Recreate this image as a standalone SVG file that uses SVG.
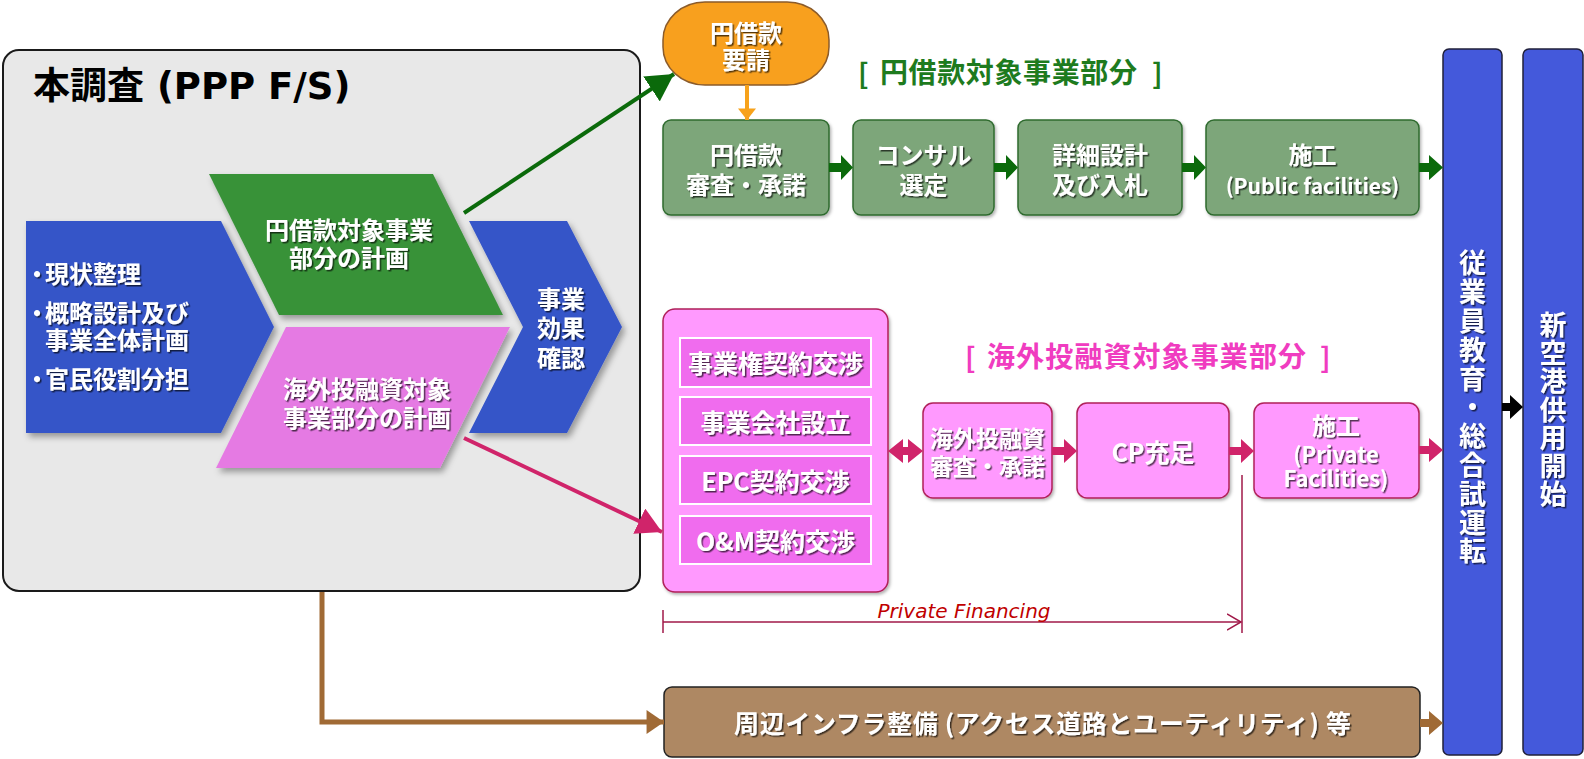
<svg xmlns="http://www.w3.org/2000/svg" width="1584" height="759" viewBox="0 0 1584 759">
<defs>
<filter id="sh" x="-10%" y="-10%" width="130%" height="130%"><feDropShadow dx="3" dy="4" stdDeviation="3" flood-color="#000" flood-opacity="0.35"/></filter>
<filter id="ts" x="-10%" y="-20%" width="130%" height="150%"><feDropShadow dx="1.5" dy="1.5" stdDeviation="0.7" flood-color="#000" flood-opacity="0.65"/></filter>
<filter id="bs" x="-5%" y="-5%" width="115%" height="115%"><feDropShadow dx="1.5" dy="2" stdDeviation="1.5" flood-color="#000" flood-opacity="0.3"/></filter>
<marker id="mg" markerUnits="userSpaceOnUse" markerWidth="30" markerHeight="30" refX="18" refY="10" viewBox="0 0 20 20" orient="auto"><path d="M0,0 L18,10 L0,20 Z" fill="#0B6A0B"/></marker>
<marker id="mp" markerUnits="userSpaceOnUse" markerWidth="28" markerHeight="28" refX="18" refY="10" viewBox="0 0 20 20" orient="auto"><path d="M0,0 L18,10 L0,20 Z" fill="#D0246A"/></marker>
<marker id="mb" markerUnits="userSpaceOnUse" markerWidth="24" markerHeight="24" refX="16" refY="11" viewBox="0 0 16 22" orient="auto"><path d="M0,0 L16,11 L0,22 Z" fill="#A06A35"/></marker>
<marker id="mo" markerUnits="userSpaceOnUse" markerWidth="26" markerHeight="18" refX="16" refY="12.5" viewBox="0 0 16 25" orient="auto"><path d="M0,0 L16,12.5 L0,25 Z" fill="#F7A21B"/></marker>
<marker id="mr" markerUnits="userSpaceOnUse" markerWidth="16" markerHeight="18" refX="14" refY="8" viewBox="0 0 16 16" orient="auto"><path d="M0,0 L14,8 L0,16" fill="none" stroke="#A01848" stroke-width="1.5"/></marker>
</defs>
<style>
.t{font-family:"Noto Sans CJK JP","Noto Sans",sans-serif;font-weight:700;}
.c{text-anchor:middle;dominant-baseline:central;}
.m{dominant-baseline:central;}
.w{fill:#fff;filter:url(#ts);}
.v{writing-mode:vertical-rl;text-anchor:middle;dominant-baseline:central;}
.gbox{fill:#7DA67A;stroke:#2F6B2F;stroke-width:1.5;filter:url(#bs);}
.pbox{fill:#FF99FE;stroke:#B0205A;stroke-width:1.5;filter:url(#bs);}
.pin{fill:#F06CEE;stroke:#fff;stroke-width:2;}
.ga{fill:#0B6A0B;}
.pa{fill:#D0246A;}
.ba{fill:#A06A35;}
.tall{fill:#4459DB;stroke:#20203A;stroke-width:1.5;}
</style>
<rect width="1584" height="759" fill="#fff"/>

<g id="study">
<rect x="3" y="50" width="637" height="541" rx="16" fill="#E8E8E8" stroke="#1A1A1A" stroke-width="2"/>
<text class="t" x="33" y="99" font-size="37" fill="#000">本調査<tspan font-family="'DejaVu Sans',sans-serif"> (PPP F/S)</tspan></text>
</g>

<g id="current-state">
<polygon points="26,221 221,221 274,327 221,433 26,433" fill="#3555C8" filter="url(#sh)"/>
<text class="t w m" font-size="24"><tspan x="25" y="272">・</tspan><tspan dx="-4">現状整理</tspan><tspan x="25" y="311">・</tspan><tspan dx="-4">概略設計及び</tspan><tspan x="45" y="338">事業全体計画</tspan><tspan x="25" y="377">・</tspan><tspan dx="-4">官民役割分担</tspan></text>
</g>

<g id="yen-plan">
<polygon points="209,174 433,174 503,315 279,315" fill="#389238" filter="url(#sh)"/>
<text class="t c w" font-size="24"><tspan x="349" y="228">円借款対象事業</tspan><tspan x="349" y="256">部分の計画</tspan></text>
</g>

<g id="private-plan">
<polygon points="286,327 510,327 440,468 216,468" fill="#E57AE3" filter="url(#sh)"/>
<text class="t c w" font-size="24"><tspan x="367" y="387">海外投融資対象</tspan><tspan x="367" y="416">事業部分の計画</tspan></text>
</g>

<g id="effect">
<polygon points="469,221 567,221 622,327 567,433 469,433 523,327" fill="#3555C8" filter="url(#sh)"/>
<text class="t c w" font-size="24"><tspan x="561" y="297">事業</tspan><tspan x="561" y="326">効果</tspan><tspan x="561" y="356">確認</tspan></text>
</g>

<g id="yen-request">
<rect x="663" y="2" width="166" height="83" rx="42" ry="38" fill="#F8A01E" stroke="#8B5B2A" stroke-width="1.5"/>
<text class="t c w" font-size="24"><tspan x="746" y="31">円借款</tspan><tspan x="746" y="58">要請</tspan></text>
</g>

<g id="yen-title">
<text class="t m" fill="#1E7B1E" font-size="28"><tspan x="858" y="72">[</tspan><tspan x="880" y="71" textLength="257">円借款対象事業部分</tspan><tspan x="1152" y="72">]</tspan></text>
</g>

<g id="yen-review">
<rect class="gbox" x="663" y="120" width="166" height="95" rx="8"/>
<text class="t c w" font-size="24"><tspan x="746" y="153">円借款</tspan><tspan x="746" y="183">審査・承諾</tspan></text>
</g>
<g id="consultant">
<rect class="gbox" x="853" y="120" width="141" height="95" rx="8"/>
<text class="t c w" font-size="24"><tspan x="923.5" y="153">コンサル</tspan><tspan x="923.5" y="183">選定</tspan></text>
</g>
<g id="design">
<rect class="gbox" x="1018" y="120" width="164" height="95" rx="8"/>
<text class="t c w" font-size="24"><tspan x="1100" y="153">詳細設計</tspan><tspan x="1100" y="183">及び入札</tspan></text>
</g>
<g id="public-construction">
<rect class="gbox" x="1206" y="120" width="213" height="95" rx="8"/>
<text class="t c w" font-size="24"><tspan x="1312.5" y="153">施工</tspan><tspan x="1312.5" y="185" font-size="21">(Public facilities)</tspan></text>
</g>

<g id="private-title">
<text class="t m" fill="#F03CC0" font-size="28"><tspan x="965" y="356">[</tspan><tspan x="987" y="355" textLength="319">海外投融資対象事業部分</tspan><tspan x="1320" y="356">]</tspan></text>
</g>

<g id="negotiations">
<rect class="pbox" x="663" y="309" width="225" height="283" rx="12"/>
<rect class="pin" x="680" y="338" width="191" height="49"/>
<rect class="pin" x="680" y="397" width="191" height="48"/>
<rect class="pin" x="680" y="456" width="191" height="48"/>
<rect class="pin" x="680" y="516" width="191" height="48"/>
<text class="t c w" x="775.5" y="362" font-size="25">事業権契約交渉</text>
<text class="t c w" x="775.5" y="421" font-size="25">事業会社設立</text>
<text class="t c w" x="775.5" y="480" font-size="25">EPC契約交渉</text>
<text class="t c w" x="775.5" y="540" font-size="25">O&amp;M契約交渉</text>
</g>

<g id="private-review">
<rect class="pbox" x="923" y="403" width="129" height="95" rx="10"/>
<text class="t c w" font-size="23"><tspan x="987.5" y="437">海外投融資</tspan><tspan x="987.5" y="465">審査・承諾</tspan></text>
</g>
<g id="cp">
<rect class="pbox" x="1077" y="403" width="152" height="95" rx="10"/>
<text class="t c w" x="1153" y="451" font-size="25">CP充足</text>
</g>
<g id="private-construction">
<rect class="pbox" x="1254" y="403" width="165" height="95" rx="10"/>
<text class="t c w" font-size="22"><tspan x="1336" y="424" font-size="24">施工</tspan><tspan x="1336" y="453">(Private</tspan><tspan x="1336" y="477">Facilities)</tspan></text>
</g>

<g id="infra">
<rect x="664" y="687" width="756" height="70" rx="8" fill="#AE8863" stroke="#222" stroke-width="1.5"/>
<text class="t c w" x="1042.5" y="722" font-size="25" textLength="617">周辺インフラ整備 (アクセス道路とユーティリティ) 等</text>
</g>

<g id="training">
<rect class="tall" x="1443" y="49" width="59" height="706" rx="6"/>
<text class="t v w" x="1472.5" y="408" font-size="27" letter-spacing="1.8">従業員教育・総合試運転</text>
</g>

<g id="opening">
<rect class="tall" x="1523" y="49" width="60" height="706" rx="6"/>
<text class="t v w" x="1553" y="410" font-size="27" letter-spacing="1.2">新空港供用開始</text>
</g>

<g id="connectors">
<line x1="464" y1="213" x2="674" y2="74" stroke="#0B6A0B" stroke-width="4" marker-end="url(#mg)"/>
<line x1="464" y1="438" x2="662" y2="532" stroke="#D0246A" stroke-width="4" marker-end="url(#mp)"/>
<path d="M322,592 V722 H664" fill="none" stroke="#A06A35" stroke-width="5" marker-end="url(#mb)"/>
<line x1="747" y1="85" x2="747" y2="120" stroke="#F7A21B" stroke-width="4" marker-end="url(#mo)"/>
<polygon class="ga" points="829,163 841,163 841,155 853,167.5 841,180 841,172 829,172"/>
<polygon class="ga" points="994,163 1006,163 1006,155 1018,167.5 1006,180 1006,172 994,172"/>
<polygon class="ga" points="1182,163 1194,163 1194,155 1206,167.5 1194,180 1194,172 1182,172"/>
<polygon class="ga" points="1419,163 1429,163 1429,155 1443,167.5 1429,180 1429,172 1419,172"/>
<polygon class="pa" points="888,451 903,439 903,447 908,447 908,439 923,451 908,463 908,455 903,455 903,463"/>
<polygon class="pa" points="1052,447 1064,447 1064,439 1077,451 1064,463 1064,455 1052,455"/>
<polygon class="pa" points="1229,447 1241,447 1241,439 1254,451 1241,463 1241,455 1229,455"/>
<polygon class="pa" points="1419,446 1429,446 1429,438 1443,450 1429,462 1429,454 1419,454"/>
<polygon class="ba" points="1420,719 1429,719 1429,711 1443,723 1429,735 1429,727 1420,727"/>
<polygon fill="#000" points="1502,403 1510,403 1510,395 1523,407 1510,419 1510,411 1502,411"/>
<line x1="1242" y1="475" x2="1242" y2="633" stroke="#A01848" stroke-width="1.5"/>
<line x1="663" y1="610" x2="663" y2="633" stroke="#A01848" stroke-width="1.5"/>
<line x1="663" y1="622" x2="1241" y2="622" stroke="#A01848" stroke-width="1.5" marker-end="url(#mr)"/>
<text x="964" y="611" font-family="'DejaVu Sans',sans-serif" font-style="italic" font-size="20" fill="#C00000" text-anchor="middle" dominant-baseline="central">Private Financing</text>
</g>
</svg>
